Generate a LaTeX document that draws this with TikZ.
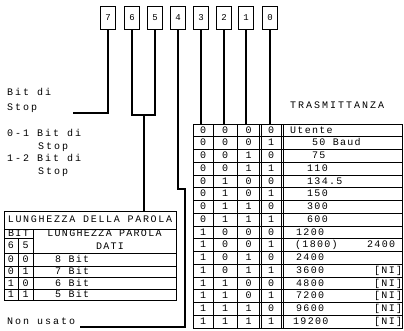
\documentclass[tikz,border=0pt]{standalone}
\usepackage{fontspec}
\newfontfamily\tw[LetterSpace=20]{Liberation Mono}
\newfontfamily\twm[LetterSpace=17]{Liberation Mono}
\newfontfamily\twt[LetterSpace=13]{Liberation Mono}
\begin{document}
\begin{tikzpicture}[x=1pt,y=-1pt,
  lbl/.style={font=\tw\fontsize{10}{11}\selectfont,inner sep=0pt,text height=5.7pt,text depth=0pt,anchor=west},
  txt/.style={font=\twt\fontsize{10}{11}\selectfont,inner sep=0pt,text height=5.7pt,text depth=0pt},
  bitbox/.style={draw,line width=0.8pt,minimum width=15pt,minimum height=23pt,inner sep=0pt,font=\twt\fontsize{9}{10}\selectfont},
  wire/.style={line width=2pt},
  tbl/.style={line width=0.8pt}]
\useasboundingbox (0,0) rectangle (404,330);

% bit boxes
\foreach \n/\x in {7/108,6/132,5/155,4/178,3/201,2/224,1/246,0/270}
  \node[bitbox] (b\n) at (\x,17.5) {\n};

% connector end points
\coordinate (s7) at (73,113);
\coordinate (j65) at (144,115);
\coordinate (lt) at (144,211);
\coordinate (nu) at (80,327);
\foreach \n/\x in {3/201,2/224,1/246,0/270} \coordinate (t\n) at (\x,124);

% wires
\draw[wire] (b7.south) |- (s7);
\draw[wire] (b6.south) |- (j65) -| (b5.south);
\draw[wire] (j65) -- (lt);
\draw[wire] (b4.south) -- ++(0,160) -- ++(7,0) |- (nu);
\foreach \n in {3,2,1,0} \draw[wire] (b\n.south) -- (t\n);

% left labels
\node[lbl] (l1) at (7,93) {Bit di};
\node[lbl] (l2) at (7,108) {Stop};
\node[lbl] (l3) at (7,134) {0-1 Bit di};
\node[lbl] (l4) at (38,147) {Stop};
\node[lbl] (l5) at (7,159) {1-2 Bit di};
\node[lbl] (l6) at (38,172) {Stop};
\node[lbl] (l7) at (7,322) {Non usato};
\node[lbl] (tr) at (290,106) {TRASMITTANZA};

% main table
\draw[tbl] (193,124) rectangle (402.5,328);
\foreach \i in {1,...,15} \draw[tbl] (193,{124+12.75*\i}) -- (402.5,{124+12.75*\i});
\foreach \x in {213,237,259.5,261.7,281.3,283.5} \draw[tbl] (\x,124) -- (\x,328);
\foreach \p/\q/\r/\s [count=\i from 0] in {0/0/0/0,0/0/0/1,0/0/1/0,0/0/1/1,0/1/0/0,0/1/0/1,0/1/1/0,0/1/1/1,1/0/0/0,1/0/0/1,1/0/1/0,1/0/1/1,1/1/0/0,1/1/0/1,1/1/1/0,1/1/1/1}{
  \node[txt] (m\i a) at (203,{124+12.75*(\i+0.5)}) {\p};
  \node[txt] (m\i b) at (225,{124+12.75*(\i+0.5)}) {\q};
  \node[txt] (m\i c) at (248.5,{124+12.75*(\i+0.5)}) {\r};
  \node[txt] (m\i d) at (271,{124+12.75*(\i+0.5)}) {\s};
}
\foreach \v/\x [count=\i from 0] in {Utente/290,50 Baud/312,75/312,110/307,134.5/307,150/307,300/307,600/307,1200/296,(1800)/295,2400/296,3600/296,4800/296,7200/296,9600/296,19200/293}
  \node[txt,anchor=west] (v\i) at (\x,{124+12.75*(\i+0.5)}) {\v};
\node[txt,anchor=west] (e9) at (367,{124+12.75*9.5}) {2400};
\foreach \i in {11,...,15}
  \node[txt,anchor=west] (n\i) at (374,{124+12.75*(\i+0.5)}) {[NI]};

% left table
\draw[tbl] (4,211) rectangle (176,300);
\draw[tbl] (4,229) -- (176,229);
\draw[tbl] (4,238) -- (33,238);
\foreach \y in {253,266,277.5,289} \draw[tbl] (4,\y) -- (176,\y);
\draw[tbl] (33,229) -- (33,300);
\draw[tbl] (18,238) -- (18,300);
\node[txt,font=\twm\fontsize{10}{11}\selectfont] (lt1) at (90,220) {LUNGHEZZA DELLA PAROLA};
\node[txt] (lt2) at (18.5,233.5) {BIT};
\node[txt] (lt3) at (11,245.5) {6};
\node[txt] (lt4) at (25.5,245.5) {5};
\node[txt] (lt5) at (104.5,233.5) {LUNGHEZZA PAROLA};
\node[txt] (lt6) at (110,246.5) {DATI};
\foreach \p/\q/\v/\y [count=\i] in {0/0/8/259.5,0/1/7/271.7,1/0/6/283.2,1/1/5/294.5}{
  \node[txt] (w\i a) at (11,\y) {\p};
  \node[txt] (w\i b) at (25.5,\y) {\q};
  \node[txt,anchor=west] (w\i c) at (55,\y) {\v\ Bit};
}
\end{tikzpicture}
\end{document}
